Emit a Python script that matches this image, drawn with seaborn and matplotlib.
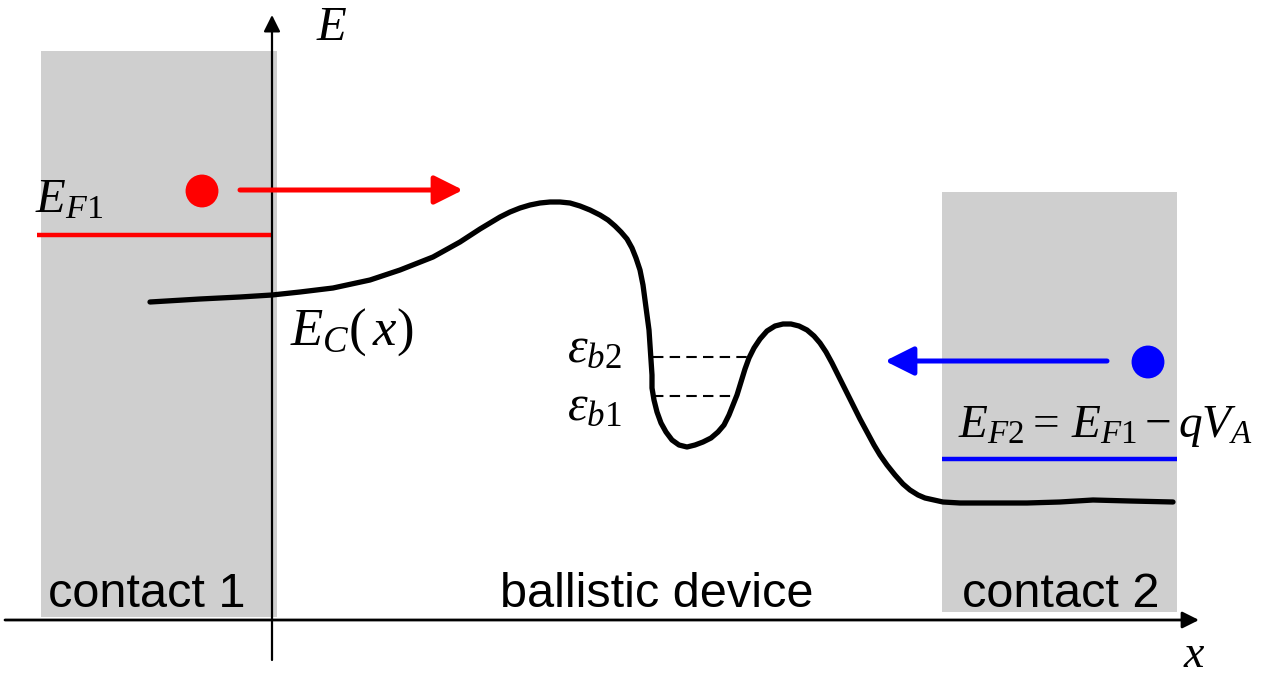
import numpy as np
import pandas as pd
import matplotlib
matplotlib.use("Agg")
import matplotlib.pyplot as plt
import seaborn as sns
from matplotlib.patches import Rectangle

# conduction band profile E_C(x) (pixel frame, y down)
curve_x = [150, 200, 240, 272, 300, 333, 370, 400, 433, 460, 480, 490, 500,
           510, 520, 530, 540, 550, 560, 570, 580, 590, 600, 608, 615, 621,
           627, 632, 636, 640, 643, 645, 647, 649, 650, 651, 652, 652, 654,
           657, 661, 666, 672, 679, 687, 695, 703, 711, 718, 724, 729, 733,
           737, 741, 745, 749, 754, 760, 767, 775, 783, 791, 799, 807, 814,
           820, 826, 832, 838, 845, 852, 860, 867, 874, 880, 887, 895, 903,
           910, 918, 925, 934, 943, 960, 980, 1005, 1027, 1060, 1093, 1130,
           1173]
curve_y = [302, 299, 297, 295, 292, 288, 280, 270, 257, 242, 229, 223, 217,
           212, 208, 205, 203, 202, 202, 203, 206, 210, 215, 220, 226, 232,
           239, 248, 258, 270, 285, 300, 315, 330, 345, 360, 375, 388, 400,
           412, 423, 432, 440, 445, 447, 445, 442, 438, 432, 425, 415, 405,
           395, 382, 369, 358, 348, 339, 331, 326, 324, 324, 326, 330, 336,
           343, 352, 363, 375, 389, 403, 419, 432, 445, 455, 465, 475, 484,
           490, 495, 498, 500, 502, 503, 503, 503, 503, 502, 500, 501, 502]

# bound states in the well
level_names = ["eb2", "eb1"]
level_y = [357, 396]
level_x0 = [653, 653]
level_x1 = [749, 737]

# fermi levels of the contacts
ef1_y, ef1_x = 235, (37, 273)
ef2_y, ef2_x = 459, (942, 1177)

# electrons and their direction
electron_x = [202, 1148]
electron_y = [191, 362]
electron_col = ["#ff0000", "#0000ff"]

sns.set_theme(style="white")
plt.rcParams["font.family"] = ["Liberation Sans", "DejaVu Sans"]
plt.rcParams["text.color"] = "black"
plt.rcParams["mathtext.fontset"] = "custom"
plt.rcParams["mathtext.rm"] = "Liberation Serif"
plt.rcParams["mathtext.it"] = "Liberation Serif:italic"

fig = plt.figure(figsize=(12.62, 6.81), dpi=100)
ax = fig.add_axes([0, 0, 1, 1])
ax.set_xlim(0, 1262)
ax.set_ylim(681, 0)
ax.axis("off")

# contacts
gray = "#cfcfcf"
ax.add_patch(Rectangle((41, 51), 236, 566, color=gray, zorder=0, lw=0))
ax.add_patch(Rectangle((942, 192), 235, 420, color=gray, zorder=0, lw=0))

# axes arrows
ax.annotate("", xy=(272, 15), xytext=(272, 660),
            arrowprops=dict(arrowstyle="-|>", color="black", lw=1.6,
                            mutation_scale=25, shrinkA=0, shrinkB=0))
ax.annotate("", xy=(1199, 620), xytext=(5, 620),
            arrowprops=dict(arrowstyle="-|>", color="black", lw=2.0,
                            mutation_scale=25, shrinkA=0, shrinkB=0))

# band edge
df = pd.DataFrame({"x": curve_x, "y": curve_y})
sns.lineplot(data=df, x="x", y="y", sort=False, estimator=None,
             color="black", lw=3.8, ax=ax, zorder=3)

# quasi-bound levels
for name, y, a, b in zip(level_names, level_y, level_x0, level_x1):
    sns.lineplot(x=[a, b], y=[y, y], color="black", lw=1.5,
                 linestyle=(0, (5, 3)), ax=ax, zorder=2)

# fermi levels
ax.plot(ef1_x, [ef1_y, ef1_y], color="#ff0000", lw=3.2, solid_capstyle="butt")
ax.plot(ef2_x, [ef2_y, ef2_y], color="#0000ff", lw=3.2, solid_capstyle="butt")

# electrons
sns.scatterplot(x=electron_x, y=electron_y, hue=electron_x,
                palette=electron_col, s=560, edgecolor="none",
                legend=False, ax=ax, zorder=4)
ax.annotate("", xy=(463, 190), xytext=(240, 190),
            arrowprops=dict(arrowstyle="-|>,head_length=0.7,head_width=0.35",
                            color="#ff0000", lw=3.6, mutation_scale=25,
                            shrinkA=0, shrinkB=0))
ax.annotate("", xy=(885, 361), xytext=(1107, 361),
            arrowprops=dict(arrowstyle="-|>,head_length=0.7,head_width=0.35",
                            color="#0000ff", lw=3.6, mutation_scale=25,
                            shrinkA=0, shrinkB=0))

# labels
ms = 35
ax.text(316, 40, r"$E$", fontsize=ms, va="baseline", ha="left")
ax.text(1183, 655, r"$x$", fontsize=33, va="center", ha="left")
ax.text(35, 212, r"$E_{F\mathrm{1}}$", fontsize=ms, va="baseline")
ax.text(290, 345, r"$E_C(\,x)$", fontsize=ms + 3, va="baseline")
ax.text(622, 362, r"$\varepsilon_{b\mathrm{2}}$", fontsize=ms + 1,
        va="baseline", ha="right")
ax.text(622, 420, r"$\varepsilon_{b\mathrm{1}}$", fontsize=ms + 1,
        va="baseline", ha="right")
ax.text(958, 437, r"$E_{F\mathrm{2}} =\, E_{F\mathrm{1}} - qV_A$",
        fontsize=34, va="baseline")

ax.text(147, 607, "contact 1", fontsize=35, ha="center", va="baseline")
ax.text(657, 607, "ballistic device", fontsize=35, ha="center", va="baseline")
ax.text(1061, 607, "contact 2", fontsize=35, ha="center", va="baseline")

fig.savefig("out.png", dpi=100)
